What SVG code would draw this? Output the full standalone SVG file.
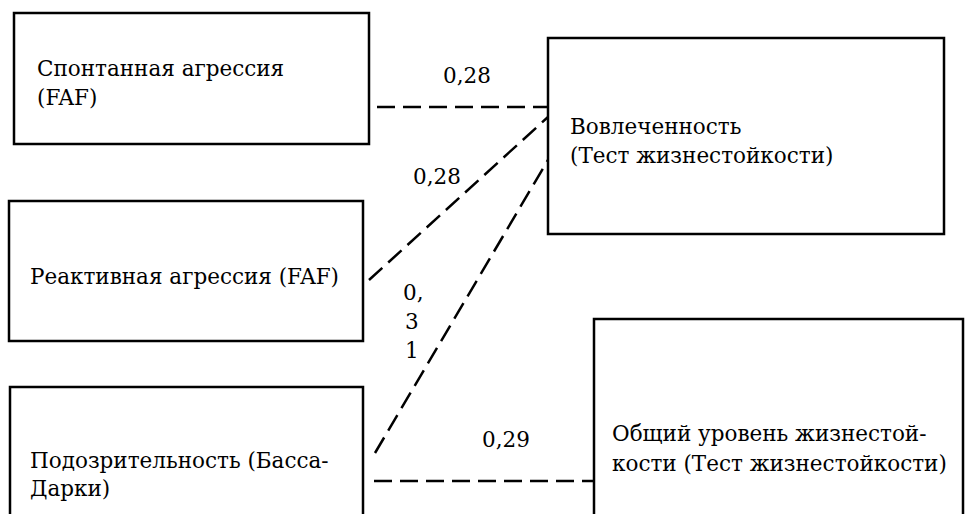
<svg xmlns="http://www.w3.org/2000/svg" width="966" height="514" viewBox="0 0 966 514">
<style>
.box{fill:#fff;stroke:#000;stroke-width:2.5}
.c{fill:none;stroke:#000;stroke-width:2.5;stroke-dasharray:18 8}
</style>
<rect width="966" height="514" fill="#fff"/>
<g font-family="DejaVu Serif, serif" font-size="21.5" fill="#000">
<g id="n1"><rect class="box" x="14" y="13" width="355" height="131"/>
<text x="37" y="76">Спонтанная агрессия</text><text x="37" y="105">(FAF)</text></g>
<g id="n2"><rect class="box" x="548" y="38" width="396" height="196"/>
<text x="570" y="134">Вовлеченность</text><text x="570" y="163">(Тест жизнестойкости)</text></g>
<g id="n3"><rect class="box" x="9" y="201" width="354" height="140"/>
<text x="30" y="284">Реактивная агрессия (FAF)</text></g>
<g id="n4"><rect class="box" x="10" y="387" width="353" height="140"/>
<text x="30" y="468">Подозрительность (Басса-</text><text x="30" y="496">Дарки)</text></g>
<g id="n5"><rect class="box" x="594" y="319" width="369" height="210"/>
<text x="612" y="441">Общий уровень жизнестой-</text><text x="612" y="471">кости (Тест жизнестойкости)</text></g>
<g id="connectors">
<line class="c" x1="377" y1="107" x2="548" y2="107"/>
<line class="c" x1="369" y1="280" x2="548" y2="117"/>
<line class="c" x1="375" y1="453" x2="548" y2="160"/>
<line class="c" x1="374" y1="481" x2="594" y2="481"/>
<text x="443" y="83">0,28</text>
<text x="413" y="184">0,28</text>
<text x="403" y="300">0,</text>
<text x="405" y="329">3</text>
<text x="405" y="358">1</text>
<text x="482" y="447">0,29</text>
</g>
</g>
</svg>
